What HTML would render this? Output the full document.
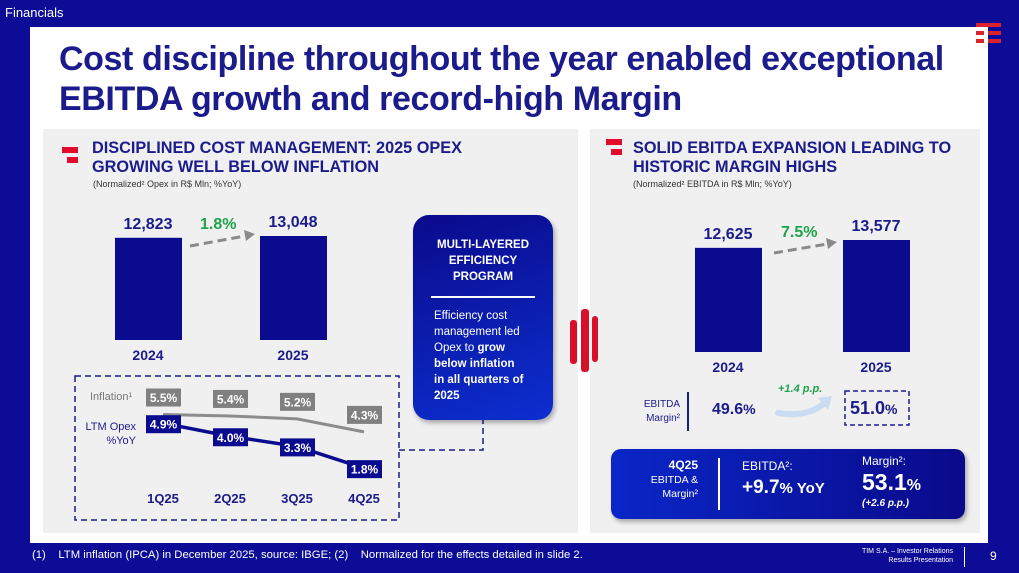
<!DOCTYPE html>
<html><head><meta charset="utf-8">
<style>
body{margin:0;width:1019px;height:573px;overflow:hidden;background:#0c0c96;font-family:"Liberation Sans",sans-serif;position:relative}
.abs{position:absolute}
</style></head><body>
<div class="abs" style="left:5px;top:5px;color:#fff;font-size:13px">Financials</div>
<div class="abs" style="left:30px;top:27px;width:958px;height:516px;background:#fff"></div>
<div class="abs" style="left:59px;top:39px;width:940px;color:#1b1b8c;font-weight:bold;font-size:34px;line-height:40px;letter-spacing:-0.4px">Cost discipline throughout the year enabled exceptional EBITDA growth and record-high Margin</div>
<div class="abs" style="left:43px;top:129px;width:535px;height:404px;background:#f0f0f0"></div>
<div class="abs" style="left:590px;top:129px;width:390px;height:404px;background:#f0f0f0"></div>
<svg class="abs" style="left:0;top:0" width="1019" height="573">
 <g fill="#d8222e">
  <rect x="976" y="23" width="25" height="4"/><rect x="976" y="31" width="8" height="4"/><rect x="988" y="31" width="13" height="4"/><rect x="976" y="39" width="8" height="4"/><rect x="988" y="39" width="13" height="4"/>
 </g>
 <g fill="#e30b2b"><rect x="62" y="147" width="16" height="6"/><rect x="67" y="157" width="11" height="6"/></g>
 <g fill="#e30b2b"><rect x="606" y="139" width="16" height="6"/><rect x="611" y="149" width="11" height="6"/></g>
 <g fill="#d8102a"><rect x="570" y="320" width="7" height="44" rx="3"/><rect x="581" y="309" width="8" height="63" rx="3"/><rect x="592" y="316" width="6" height="46" rx="3"/></g>
 <g id="left-bars"></g><g id="right-bars"></g><g id="lines"></g>
 <rect x="75" y="376" width="324" height="144" fill="none" stroke="#1b1b8c" stroke-width="1.5" stroke-dasharray="6,4"/>
 <polyline points="399,450 483,450 483,420" fill="none" stroke="#1b1b8c" stroke-width="1.5" stroke-dasharray="6,4"/>
 <g><line x1="190" y1="246" x2="245" y2="236" stroke="#8a8a8a" stroke-width="3" stroke-dasharray="9,5"/><polygon points="244,230 255,234 246,241" fill="#8a8a8a"/></g>
 <g><line x1="774" y1="253" x2="827" y2="244" stroke="#8a8a8a" stroke-width="3" stroke-dasharray="9,5"/><polygon points="826,238 837,242 828,249" fill="#8a8a8a"/></g>
 <g><path d="M778,413 Q808,418 826,402" fill="none" stroke="#c9dcf2" stroke-width="6" stroke-linecap="round"/><polygon points="818,398 832,396 828,410" fill="#c9dcf2"/></g>
 <line x1="688" y1="392" x2="688" y2="431" stroke="#1b1b8c" stroke-width="2"/>
 <rect x="845" y="391" width="64" height="34" fill="none" stroke="#1b1b8c" stroke-width="1.5" stroke-dasharray="5,3"/>
</svg>
<div class="abs" style="left:92px;top:139px;color:#1b1b8c;font-weight:bold;font-size:16.3px;line-height:19px">DISCIPLINED COST MANAGEMENT: 2025 OPEX<br>GROWING WELL BELOW INFLATION</div>
<div class="abs" style="left:93px;top:179px;color:#333;font-size:9px">(Normalized² Opex in R$ Mln; %YoY)</div>
<div class="abs" style="left:633px;top:139px;color:#1b1b8c;font-weight:bold;font-size:16.3px;line-height:19px">SOLID EBITDA EXPANSION LEADING TO<br>HISTORIC MARGIN HIGHS</div>
<div class="abs" style="left:633px;top:179px;color:#333;font-size:9px">(Normalized² EBITDA in R$ Mln; %YoY)</div>
<div class="abs" style="left:200px;top:216px;color:#1fa24b;font-weight:bold;font-size:16px">1.8%</div>
<div class="abs" style="left:781px;top:224px;color:#1fa24b;font-weight:bold;font-size:16px">7.5%</div>
<div class="abs" style="left:413px;top:215px;width:140px;height:205px;border-radius:16px;background:linear-gradient(160deg,#0a0a8a,#0c2fd0);box-shadow:2px 3px 5px rgba(0,0,0,.3);color:#fff">
 <div style="margin-top:22px;text-align:center;font-weight:bold;font-size:11.5px;line-height:16px">MULTI-LAYERED<br>EFFICIENCY<br>PROGRAM</div>
 <div style="margin:11px auto 0;width:104px;height:2px;background:#fff"></div>
 <div style="margin:10px 0 0 21px;font-size:11.5px;line-height:16px">Efficiency cost<br>management led<br>Opex to <b>grow<br>below inflation<br>in all quarters of<br>2025</b></div>
</div>
<div class="abs" style="left:90px;top:391px;color:#777;font-size:11px">Inflation¹</div>
<div class="abs" style="left:80px;top:420px;width:56px;text-align:right;color:#1b1b8c;font-size:11px;line-height:14px">LTM Opex<br>%YoY</div>
<div class="abs" style="left:630px;top:398px;width:50px;text-align:right;color:#1b1b8c;font-size:10px;line-height:14px">EBITDA<br>Margin²</div>
<div class="abs" style="left:712px;top:401px;color:#1b1b8c;font-weight:bold;font-size:16px">49.6<span style="font-size:14px">%</span></div>
<div class="abs" style="left:778px;top:383px;color:#1fa24b;font-weight:bold;font-style:italic;font-size:11px">+1.4 p.p.</div>
<div class="abs" style="left:850px;top:398px;color:#1b1b8c;font-weight:bold;font-size:18px">51.0<span style="font-size:14px">%</span></div>
<div class="abs" style="left:611px;top:449px;width:354px;height:70px;border-radius:10px;background:linear-gradient(90deg,#0a26c8,#0a0a8a);box-shadow:2px 3px 5px rgba(0,0,0,.3);color:#fff">
 <div class="abs" style="left:10px;top:9px;width:77px;text-align:right;font-size:10.5px;line-height:14px"><b style="font-size:12px">4Q25</b><br>EBITDA &amp;<br>Margin²</div>
 <div class="abs" style="left:107px;top:9px;width:2px;height:52px;background:#fff"></div>
 <div class="abs" style="left:131px;top:10px;font-size:12px">EBITDA²:</div>
 <div class="abs" style="left:131px;top:28px;font-size:19px;font-weight:bold">+9.7<span style="font-size:15px">% YoY</span></div>
 <div class="abs" style="left:251px;top:5px;font-size:12px">Margin²:</div>
 <div class="abs" style="left:251px;top:20px;font-size:23px;font-weight:bold">53.1<span style="font-size:16px">%</span></div>
 <div class="abs" style="left:251px;top:49px;font-size:10px;font-weight:bold;font-style:italic">(+2.6 p.p.)</div>
</div>
<div class="abs" style="left:32px;top:549px;color:#fff;font-size:11.3px">(1)&nbsp;&nbsp;&nbsp; LTM inflation (IPCA) in December 2025, source: IBGE; (2)&nbsp;&nbsp;&nbsp; Normalized for the effects detailed in slide 2.</div>
<div class="abs" style="left:820px;top:547px;width:133px;text-align:right;color:#fff;font-size:7px;line-height:9px">TIM S.A. – Investor Relations<br>Results Presentation</div>
<div class="abs" style="left:964px;top:547px;width:1px;height:20px;background:#fff"></div>
<div class="abs" style="left:990px;top:549px;color:#fff;font-size:12px">9</div>
<script>
const opexYears=["2024","2025"];
const opexValues=[12823,13048];
const ebitdaYears=["2024","2025"];
const ebitdaValues=[12625,13577];
const quarters=["1Q25","2Q25","3Q25","4Q25"];
const inflationValues=[5.5,5.4,5.2,4.3];
const opexYoY=[4.9,4.0,3.3,1.8];
const NS="http://www.w3.org/2000/svg";
function mk(tag,attrs,parent){const e=document.createElementNS(NS,tag);for(const k in attrs)e.setAttribute(k,attrs[k]);parent.appendChild(e);return e;}
function fmt(v){return v.toLocaleString('en-US');}
function drawBars(g,years,vals,xs,base,k,prefix){
 vals.forEach((v,i)=>{
  const h=v*k;
  const r=mk('rect',{x:xs[i],y:base-h,width:67,height:h,fill:'#0b0b8f'},g);
  
  
  const t=mk('text',{x:xs[i]+33,y:base-h-9,'text-anchor':'middle','font-size':'16','font-weight':'bold',fill:'#1b1b8c'},g);
  t.textContent=fmt(v);
  
  
  const l=mk('text',{x:xs[i]+33,y:base+20,'text-anchor':'middle','font-size':'14','font-weight':'bold',fill:'#1b1b8c'},g);
  l.textContent=years[i];
  
  
 });
}
drawBars(document.getElementById('left-bars'),opexYears,opexValues,[115,260],340,104/13048,'opex');
drawBars(document.getElementById('right-bars'),ebitdaYears,ebitdaValues,[695,843],352,112/13577,'ebitda');
const lg=document.getElementById('lines');
const xq=i=>163+i*67;
const yv=v=>414.5+(5.5-v)*14.5;
function series(vals,color,prefix,w){
 const pl=mk('polyline',{points:vals.map((v,i)=>xq(i)+','+yv(v)).join(' '),fill:'none',stroke:color,'stroke-width':w},lg);
 
 
 return pl;
}
series(inflationValues,'#8c8c8c','inflation',3);
series(opexYoY,'#0b0b8f','opex-yoy',3.5);
function labels(vals,color,prefix,dy){
 vals.forEach((v,i)=>{
  const cy=yv(v)+dy;
  const r=mk('rect',{x:xq(i)-17,y:cy-9,width:35,height:18,fill:color},lg);
  
  
  const t=mk('text',{x:xq(i)+0.5,y:cy+4.5,'text-anchor':'middle','font-size':'12','font-weight':'bold',fill:'#fff'},lg);
  t.textContent=v.toFixed(1)+'%';
  
  
 });
}
labels(inflationValues,'#808080','inflation',-17);
labels(opexYoY,'#0b0b8f','opex-yoy',1);
quarters.forEach((q,i)=>{
 const t=mk('text',{x:xq(i),y:503,'text-anchor':'middle','font-size':'13','font-weight':'bold',fill:'#1b1b8c'},lg);
 t.textContent=q;
 
 
});
</script>
</body></html>
